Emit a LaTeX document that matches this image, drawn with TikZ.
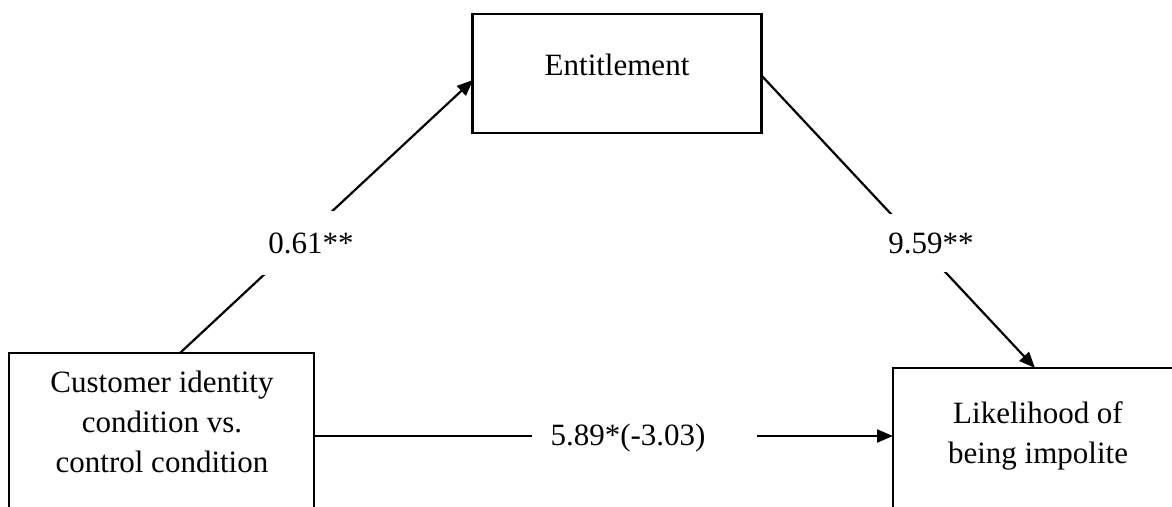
\documentclass[tikz,border=0pt]{standalone}
\usepackage{fontspec}
\setmainfont{Liberation Serif}
\usetikzlibrary{arrows.meta}
\begin{document}
\begin{tikzpicture}[x=1pt,y=-1pt,
  boxshape/.style={draw, line width=2.6pt, rectangle, inner sep=0pt},
  txt/.style={font=\fontsize{31pt}{40pt}\selectfont, align=center, inner sep=0pt},
  lab/.style={font=\fontsize{31pt}{40pt}\selectfont, fill=white},
  conn/.style={line width=2.2pt},
  arr/.style={conn, -{Triangle[length=16pt,width=13pt]}}
]
\useasboundingbox (0,0) rectangle (1172,506);
\clip (0,0) rectangle (1172,506);
% boxes
\node[boxshape, minimum width=289pt, minimum height=119pt] (ent) at (617,73.5) {};
\node[txt] (enttext) at (617,65) {Entitlement};
\node[boxshape, minimum width=305pt, minimum height=207pt] (cust) at (161.5,456.5) {};
\node[txt] (custtext) at (162,422) {Customer identity\\condition vs.\\control condition};
\node[boxshape, minimum width=290pt, minimum height=192pt] (lik) at (1038,464) {};
\node[txt] (liktext) at (1038,436) {Likelihood of\\being impolite};
% connector end points
\coordinate (a1s) at (180,353);
\coordinate (a1e) at (473,80);
\coordinate (a2s) at (761,75);
\coordinate (a2e) at (1035,368);
\coordinate (a3s) at (314,436);
\coordinate (g1) at (532,436);
\coordinate (g2) at (757,436);
\coordinate (a3e) at (893,436);
% connectors
\draw[arr] (a1s) -- (a1e);
\draw[arr] (a2s) -- (a2e);
\draw[conn] (a3s) -- (g1);
\draw[arr] (g2) -- (a3e);
% labels
\node[lab, inner sep=21pt] (l1) at (311,243) {0.61**};
\node[lab, inner sep=19pt] (l2) at (931,243) {9.59**};
\node[txt] (l3) at (628,438) {5.89*(-3.03)};
\end{tikzpicture}
\end{document}
